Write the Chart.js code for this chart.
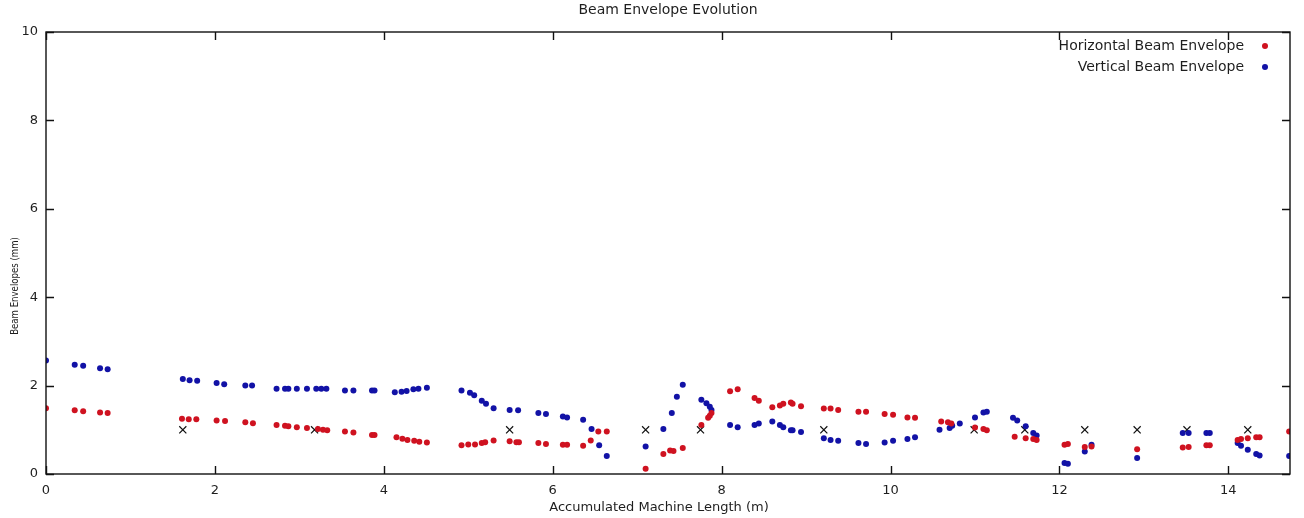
<!DOCTYPE html>
<html>
<head>
<meta charset="utf-8">
<title>Beam Envelope Evolution</title>
<script src="https://cdn.jsdelivr.net/npm/chart.js@4/dist/chart.umd.min.js"></script>
<style>
  html, body { margin: 0; padding: 0; background: #ffffff; }
  #wrap { width: 1304px; height: 518px; position: relative; }
</style>
</head>
<body>
<div id="wrap"><canvas id="chart" width="1304" height="518"></canvas></div>
<script>
// Position along the machine (m) and envelope size (mm) for each element
const horizontalPos = [0.00,0.34,0.44,0.64,0.73,1.61,1.69,1.78,2.02,2.12,2.36,2.45,2.73,2.83,2.87,2.97,3.09,3.22,3.28,3.33,3.54,3.64,3.86,3.89,4.15,4.22,4.28,4.36,4.42,4.51,4.92,5.00,5.08,5.16,5.20,5.30,5.49,5.57,5.60,5.83,5.92,6.12,6.17,6.36,6.45,6.54,6.64,7.10,7.31,7.39,7.43,7.54,7.76,7.84,7.86,7.88,8.10,8.19,8.39,8.44,8.60,8.69,8.73,8.82,8.84,8.94,9.21,9.29,9.38,9.62,9.71,9.93,10.03,10.20,10.29,10.60,10.68,10.72,11.00,11.10,11.14,11.47,11.60,11.69,11.73,12.06,12.10,12.30,12.38,12.92,13.46,13.53,13.74,13.78,14.11,14.15,14.23,14.33,14.37,14.72];
const horizontalEnv = [1.49,1.44,1.42,1.39,1.38,1.25,1.24,1.24,1.21,1.20,1.17,1.15,1.11,1.09,1.08,1.06,1.04,1.02,1.00,0.99,0.96,0.94,0.88,0.88,0.83,0.80,0.77,0.75,0.73,0.71,0.65,0.67,0.67,0.70,0.72,0.76,0.74,0.72,0.72,0.70,0.68,0.66,0.66,0.64,0.76,0.96,0.96,0.12,0.45,0.53,0.52,0.59,1.11,1.27,1.32,1.38,1.87,1.92,1.72,1.66,1.51,1.55,1.59,1.62,1.59,1.53,1.48,1.48,1.45,1.41,1.41,1.36,1.34,1.28,1.27,1.19,1.17,1.14,1.05,1.02,0.99,0.84,0.81,0.79,0.77,0.66,0.68,0.61,0.62,0.56,0.60,0.61,0.65,0.65,0.77,0.79,0.81,0.83,0.83,0.96];

const verticalPos = [0.00,0.34,0.44,0.64,0.73,1.62,1.70,1.79,2.02,2.11,2.36,2.44,2.73,2.83,2.87,2.97,3.09,3.20,3.26,3.32,3.54,3.64,3.86,3.89,4.13,4.21,4.27,4.35,4.41,4.51,4.92,5.02,5.07,5.16,5.21,5.30,5.49,5.59,5.83,5.92,6.12,6.17,6.36,6.46,6.55,6.64,7.10,7.31,7.41,7.47,7.54,7.76,7.82,7.86,7.88,8.10,8.19,8.39,8.44,8.60,8.69,8.73,8.82,8.84,8.94,9.21,9.29,9.38,9.62,9.71,9.93,10.03,10.20,10.29,10.58,10.70,10.73,10.82,11.00,11.10,11.14,11.45,11.50,11.60,11.69,11.73,12.06,12.10,12.30,12.38,12.92,13.46,13.53,13.74,13.78,14.11,14.15,14.23,14.33,14.37,14.72];
const verticalEnv = [2.57,2.47,2.45,2.39,2.37,2.15,2.12,2.11,2.06,2.03,2.00,2.00,1.93,1.93,1.93,1.93,1.93,1.93,1.93,1.93,1.89,1.89,1.89,1.89,1.85,1.86,1.88,1.92,1.93,1.95,1.89,1.84,1.78,1.66,1.59,1.49,1.45,1.44,1.38,1.36,1.30,1.28,1.23,1.02,0.65,0.41,0.62,1.02,1.38,1.75,2.02,1.68,1.60,1.52,1.45,1.11,1.06,1.11,1.14,1.19,1.11,1.06,0.99,0.99,0.95,0.81,0.77,0.75,0.70,0.68,0.71,0.75,0.79,0.83,1.00,1.04,1.09,1.14,1.28,1.39,1.41,1.27,1.21,1.08,0.93,0.87,0.25,0.23,0.51,0.66,0.36,0.93,0.93,0.93,0.93,0.70,0.64,0.55,0.45,0.42,0.41];

// Reference markers at 1 mm
const markerPos = [1.62,3.18,5.49,7.10,7.75,9.21,10.99,11.59,12.30,12.92,13.51,14.23];
const markerEnv = [1.0,1.0,1.0,1.0,1.0,1.0,1.0,1.0,1.0,1.0,1.0,1.0];

const xTicks = [0,2,4,6,8,10,12,14];
const yTicks = [0,2,4,6,8,10];

const chartTitle = 'Beam Envelope Evolution';
const xTitle = 'Accumulated Machine Length (m)';
const yTitle = 'Beam Envelopes (mm)';

const RED = '#cf1220';
const BLUE = '#1212a6';
const TEXT = '#1e1e1e';
const FONT = "'DejaVu Sans', sans-serif";

const toPoints = (xs, ys) => xs.map((x, i) => ({ x: x, y: ys[i] }));

// Frame on all four sides plus inward ticks, titles and an in-plot legend
const framePlugin = {
  id: 'frame',
  afterDatasetsDraw(chart) {
    const { ctx, chartArea: a, scales } = chart;
    ctx.save();
    ctx.strokeStyle = '#111';
    ctx.lineWidth = 1.4;
    ctx.strokeRect(a.left, a.top, a.right - a.left, a.bottom - a.top);
    const len = 8;
    ctx.beginPath();
    scales.x.ticks.forEach(t => {
      const px = Math.round(scales.x.getPixelForValue(t.value)) + 0.5;
      ctx.moveTo(px, a.bottom); ctx.lineTo(px, a.bottom - len);
      ctx.moveTo(px, a.top); ctx.lineTo(px, a.top + len);
    });
    scales.y.ticks.forEach(t => {
      const py = Math.round(scales.y.getPixelForValue(t.value)) + 0.5;
      ctx.moveTo(a.left, py); ctx.lineTo(a.left + len, py);
      ctx.moveTo(a.right, py); ctx.lineTo(a.right - len, py);
    });
    ctx.stroke();

    ctx.fillStyle = TEXT;
    ctx.textBaseline = 'middle';
    ctx.textAlign = 'center';

    // Chart title
    ctx.font = '14px ' + FONT;
    ctx.fillText(chartTitle, (a.left + a.right) / 2, 10);

    // Axis titles
    ctx.font = '13px ' + FONT;
    ctx.fillText(xTitle, (a.left + a.right) / 2 - 9, 508);
    ctx.save();
    ctx.translate(15, (a.top + a.bottom) / 2 + 33);
    ctx.rotate(-Math.PI / 2);
    ctx.scale(0.78, 1);
    ctx.font = '11px ' + FONT;
    ctx.fillText(yTitle, 0, 0);
    ctx.restore();

    // Legend (text right-aligned, symbol to the right)
    ctx.font = '14px ' + FONT;
    ctx.textAlign = 'right';
    const rows = chart.data.datasets.filter(d => d.inLegend);
    rows.forEach((d, i) => {
      const y = 46 + i * 21;
      ctx.fillStyle = TEXT;
      ctx.fillText(d.label, a.right - 46, y);
      ctx.fillStyle = d.backgroundColor;
      ctx.beginPath();
      ctx.arc(a.right - 25, y, 3, 0, Math.PI * 2);
      ctx.fill();
    });
    ctx.restore();
  }
};

new Chart(document.getElementById('chart'), {
  type: 'scatter',
  data: {
    datasets: [
      {
        label: 'Horizontal Beam Envelope',
        inLegend: true,
        data: toPoints(horizontalPos, horizontalEnv),
        backgroundColor: RED,
        borderColor: RED,
        pointRadius: 3,
        pointBorderWidth: 0
      },
      {
        label: 'Vertical Beam Envelope',
        inLegend: true,
        data: toPoints(verticalPos, verticalEnv),
        backgroundColor: BLUE,
        borderColor: BLUE,
        pointRadius: 3,
        pointBorderWidth: 0
      },
      {
        label: 'Markers',
        inLegend: false,
        data: toPoints(markerPos, markerEnv),
        pointStyle: 'crossRot',
        pointRadius: 5,
        borderColor: '#111',
        backgroundColor: '#111',
        pointBorderWidth: 1.2
      }
    ]
  },
  options: {
    responsive: false,
    animation: false,
    layout: { padding: { top: 32, right: 14, left: 0, bottom: 0 } },
    plugins: {
      legend: { display: false },
      tooltip: { enabled: false },
      title: { display: false }
    },
    scales: {
      x: {
        type: 'linear',
        min: 0,
        max: 14.73,
        afterBuildTicks: s => { s.ticks = xTicks.map(v => ({ value: v })); },
        afterFit: s => { s.height = 44; },
        grid: { display: false, drawTicks: false },
        border: { display: false },
        ticks: { color: TEXT, font: { family: FONT, size: 13 }, padding: 9, maxRotation: 0 }
      },
      y: {
        type: 'linear',
        min: 0,
        max: 10,
        afterBuildTicks: s => { s.ticks = yTicks.map(v => ({ value: v })); },
        afterFit: s => { s.width = 46; },
        grid: { display: false, drawTicks: false },
        border: { display: false },
        ticks: { color: TEXT, font: { family: FONT, size: 13 }, padding: 8 }
      }
    }
  },
  plugins: [framePlugin]
});
</script>
</body>
</html>
